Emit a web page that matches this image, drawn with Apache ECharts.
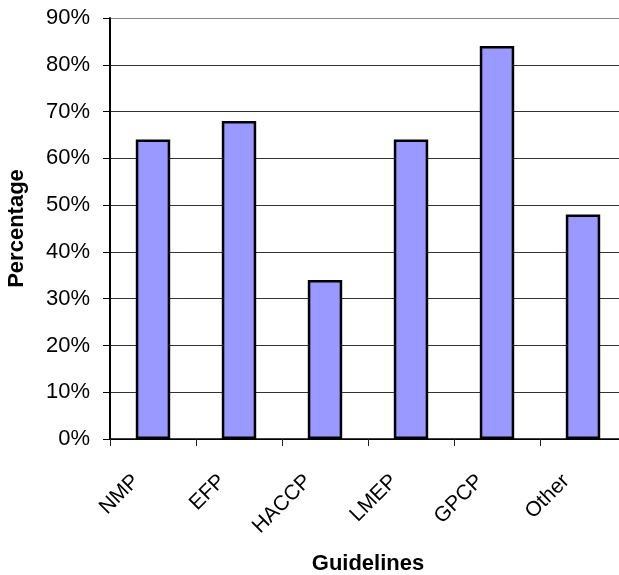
<!DOCTYPE html>
<html><head><meta charset="utf-8">
<script src="https://cdn.jsdelivr.net/npm/echarts@6/dist/echarts.min.js"></script>
<style>html,body{margin:0;padding:0;background:#fff}#c{width:619px;height:575px}</style>
</head><body><div id="c"></div>
<script>
const categories = ['NMP','EFP','HACCP','LMEP','GPCP','Other'];
const values = [64, 68, 34, 64, 84, 48];
const yTicks = [0,10,20,30,40,50,60,70,80,90];
const chart = echarts.init(document.getElementById('c'), null, {renderer:'canvas'});
const font = 'Liberation Sans, Arial, sans-serif';
chart.setOption({
  animation:false,
  grid:{left:110, top:18, width:516, height:421, containLabel:false, outerBoundsMode:'none'},
  xAxis:{type:'category', data:categories,
    name:'Guidelines', nameLocation:'middle', nameGap:114,
    nameTextStyle:{fontFamily:font, fontSize:22, fontWeight:'bold', color:'#000'},
    axisLine:{lineStyle:{color:'#000', width:1.5}},
    axisTick:{show:true, length:7, lineStyle:{color:'#222'}},
    axisLabel:{rotate:45, margin:22, padding:[0,24,0,0], fontFamily:font, fontSize:21, color:'#000'}},
  yAxis:{type:'value', min:0, max:90, interval:10,
    name:'Percentage', nameLocation:'middle', nameGap:82, nameRotate:90,
    nameTextStyle:{fontFamily:font, fontSize:22, fontWeight:'bold', color:'#000'},
    axisLine:{show:true, lineStyle:{color:'#000', width:2}},
    axisTick:{show:true, length:7, lineStyle:{color:'#000'}},
    axisLabel:{margin:20, fontFamily:font, fontSize:22, color:'#000', formatter:v=>v+'%'},
    splitLine:{show:true, lineStyle:{color:['#000','#333','#333','#333','#333','#333','#333','#333','#333','#888'], width:1}}},
  series:[{type:'bar', data:values, barWidth:'40%',
    itemStyle:{color:'#9999FF', borderColor:'#000', borderWidth:2.5}}]
});
</script></body></html>
